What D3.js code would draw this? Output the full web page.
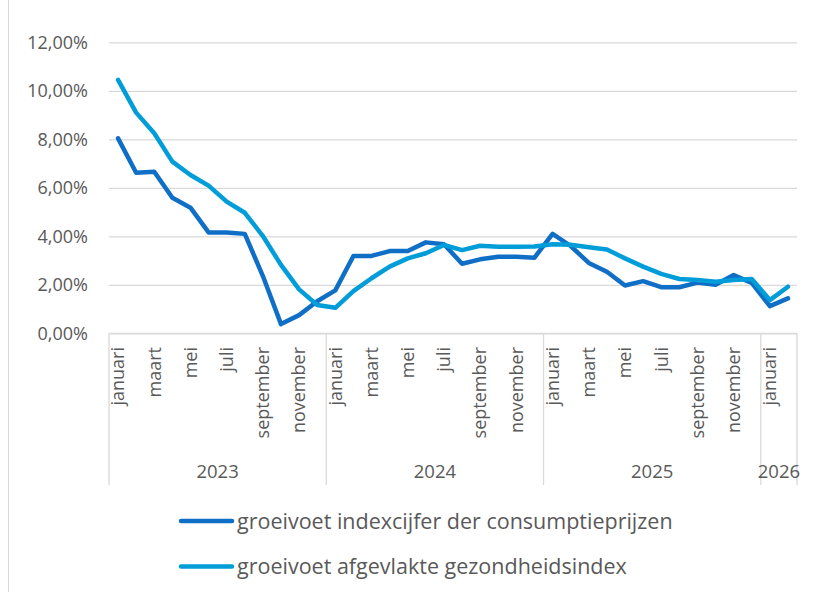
<!DOCTYPE html>
<html>
<head>
<meta charset="utf-8">
<script src="https://cdn.jsdelivr.net/npm/d3@7"></script>
<style>
  body { margin: 0; background: #fff; }
  svg { display: block; font-family: "Open Sans", sans-serif; }
</style>
</head>
<body>
<div id="chart"></div>
<script>
// Month names (Dutch) and years
var monthNames = ["januari", "februari", "maart", "april", "mei", "juni", "juli",
  "augustus", "september", "oktober", "november", "december"];
var years = ["2023", "2024", "2025", "2026"];
var monthsPerYear = [12, 12, 12, 2];

// Growth rates in % (january 2023 - february 2026)
var cpi = [8.04, 6.62, 6.66, 5.59, 5.18, 4.16, 4.16, 4.10, 2.36, 0.38, 0.75, 1.32,
  1.77, 3.19, 3.19, 3.39, 3.39, 3.75, 3.67, 2.87, 3.05, 3.16, 3.16, 3.12,
  4.10, 3.60, 2.90, 2.54, 1.97, 2.15, 1.90, 1.90, 2.09, 2.00, 2.40, 2.08,
  1.12, 1.44];
var health = [10.45, 9.10, 8.25, 7.08, 6.53, 6.09, 5.43, 4.97, 4.01, 2.82, 1.81, 1.17,
  1.05, 1.74, 2.27, 2.75, 3.09, 3.30, 3.64, 3.43, 3.61, 3.57, 3.57, 3.58,
  3.67, 3.65, 3.55, 3.46, 3.09, 2.75, 2.45, 2.24, 2.20, 2.13, 2.20, 2.24,
  1.37, 1.92];

var yTicks = [0, 2, 4, 6, 8, 10, 12];
var seriesNames = ["groeivoet indexcijfer der consumptieprijzen",
  "groeivoet afgevlakte gezondheidsindex"];
var colors = ["#0F6FC6", "#009DD9"];

// Build point table
var points = [];
years.forEach(function (y, yi) {
  for (var m = 0; m < monthsPerYear[yi]; m++) {
    points.push({ year: y, month: monthNames[m], m: m });
  }
});
points.forEach(function (p, i) { p.cpi = cpi[i]; p.health = health[i]; p.i = i; });

const W = 815, H = 592;
const svg = d3.select("#chart").append("svg").attr("width", W).attr("height", H);
const plot = { left: 109, right: 797, top: 42.3, bottom: 333.3 };

const x = d3.scaleBand()
  .domain(points.map(d => d.i))
  .range([plot.left, plot.right]);
const cx = i => x(i) + x.bandwidth() / 2;
const y = d3.scaleLinear().domain([0, 12]).range([plot.bottom, plot.top]);

// frame line on the left
svg.append("line").attr("x1", 8.5).attr("x2", 8.5).attr("y1", 0).attr("y2", H)
  .attr("stroke", "#D9D9D9").attr("stroke-width", 1);

// gridlines + y labels
const yAxis = svg.append("g").attr("transform", `translate(${plot.left},0)`)
  .call(d3.axisLeft(y).tickValues(yTicks)
    .tickSize(-(plot.right - plot.left))
    .tickPadding(21)
    .tickFormat(d => d3.format(".2f")(d).replace(".", ",") + "%"));
yAxis.select(".domain").remove();
yAxis.selectAll(".tick line").attr("stroke", "#D9D9D9").attr("stroke-width", 1.3);
yAxis.selectAll(".tick text").attr("fill", "#595959").attr("font-size", 18)
  .attr("font-family", "'Open Sans', sans-serif");

// category axis (two levels)
const xa = svg.append("g");
xa.append("line").attr("x1", plot.left).attr("x2", plot.right)
  .attr("y1", plot.bottom).attr("y2", plot.bottom)
  .attr("stroke", "#D9D9D9").attr("stroke-width", 1.3);

xa.selectAll(".month").data(points.filter(d => d.m % 2 === 0)).join("text")
  .attr("class", "month")
  .attr("transform", d => `translate(${cx(d.i)},347) rotate(-90)`)
  .attr("dy", "0.35em")
  .attr("text-anchor", "end")
  .attr("fill", "#595959").attr("font-size", 18)
  .text(d => d.month);

// year group boundaries
var starts = [];
var acc = 0;
monthsPerYear.forEach(function (n) { starts.push(acc); acc += n; });
var bounds = starts.map(s => x(s)).concat([plot.right]);
xa.selectAll(".sep").data(bounds).join("line")
  .attr("class", "sep")
  .attr("x1", d => d).attr("x2", d => d)
  .attr("y1", plot.bottom).attr("y2", 485)
  .attr("stroke", "#D9D9D9").attr("stroke-width", 1.3);

xa.selectAll(".year").data(years).join("text")
  .attr("class", "year")
  .attr("x", (d, i) => (bounds[i] + bounds[i + 1]) / 2)
  .attr("y", 478)
  .attr("text-anchor", "middle")
  .attr("fill", "#595959").attr("font-size", 18.5)
  .text(d => d);

// lines
const keys = ["cpi", "health"];
keys.forEach(function (k, ki) {
  const line = d3.line().x(d => cx(d.i)).y(d => y(d[k]));
  svg.append("path").datum(points)
    .attr("d", line)
    .attr("fill", "none")
    .attr("stroke", colors[ki])
    .attr("stroke-width", 4.5)
    .attr("stroke-linejoin", "round")
    .attr("stroke-linecap", "round");
});

// legend
const legend = svg.append("g");
seriesNames.forEach(function (name, i) {
  const ly = 521 + i * 45.5;
  legend.append("line").attr("x1", 181).attr("x2", 232).attr("y1", ly).attr("y2", ly)
    .attr("stroke", colors[i]).attr("stroke-width", 4.5).attr("stroke-linecap", "round");
  legend.append("text").attr("x", 237).attr("y", ly).attr("dy", "0.35em")
    .attr("fill", "#595959").attr("font-size", 21.5)
    .text(name);
});
</script>
</body>
</html>
